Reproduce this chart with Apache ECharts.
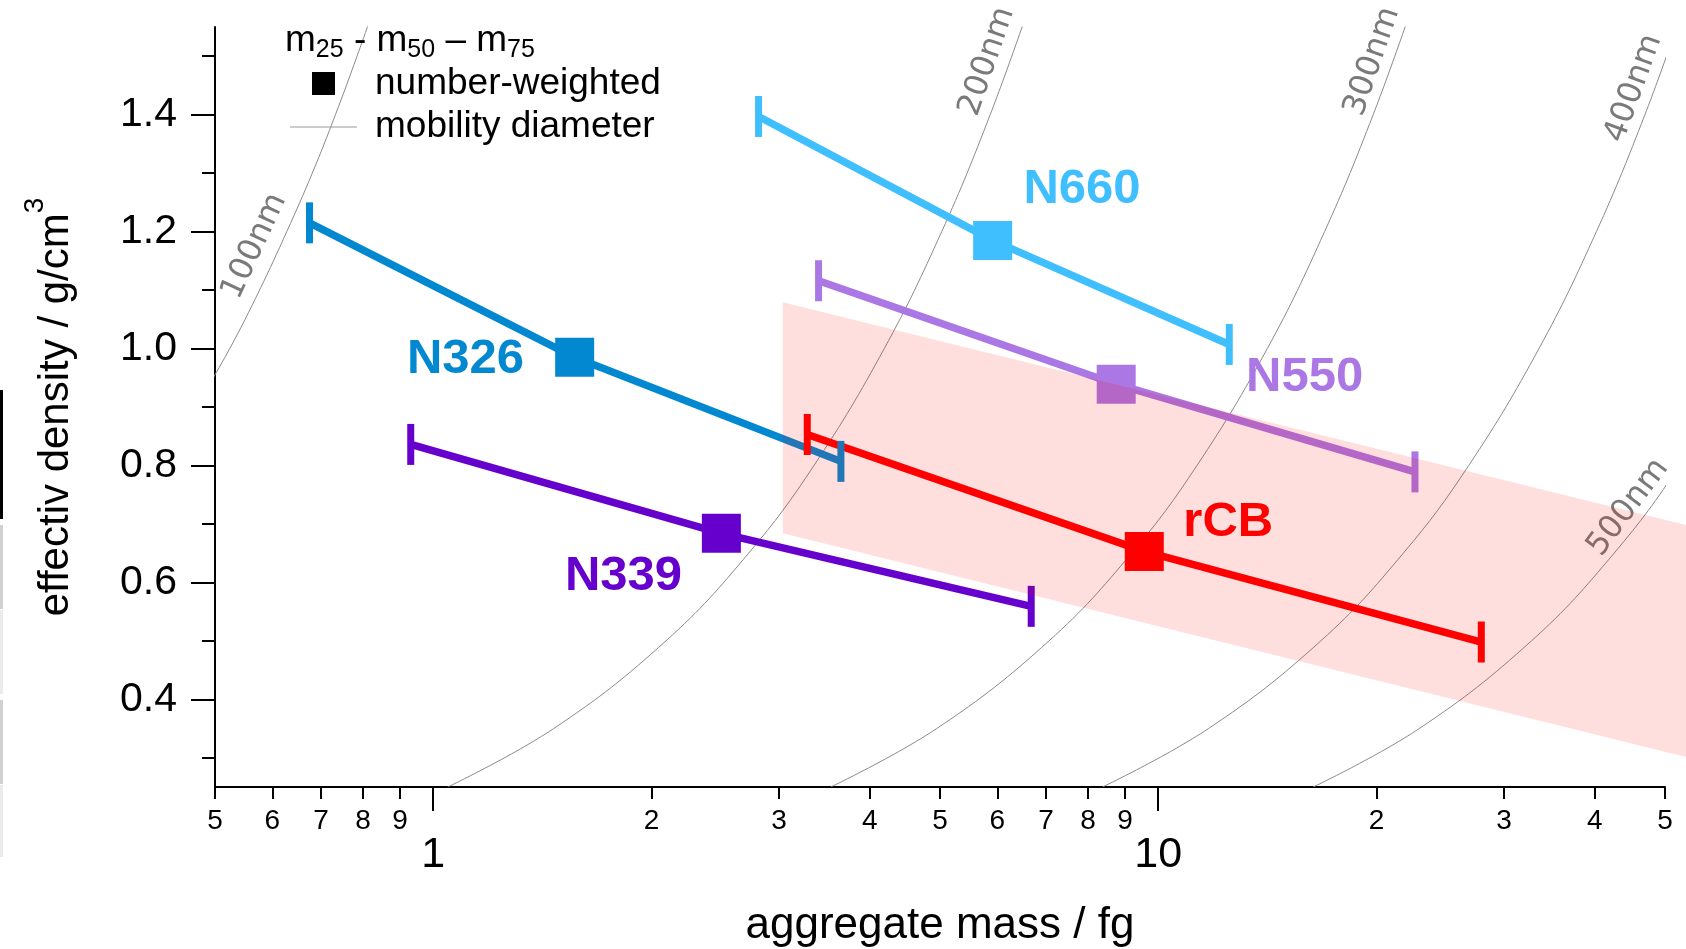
<!DOCTYPE html>
<html><head><meta charset="utf-8">
<script src="https://cdn.jsdelivr.net/npm/echarts@6/dist/echarts.min.js"></script>
<style>html,body{margin:0;padding:0;background:#fff}#c{width:1686px;height:949px}</style>
</head><body><div id="c"></div>
<script>
// ---- axis ticks ----
const massTicks = [0.5, 0.6, 0.7, 0.8, 0.9, 2, 3, 4, 5, 6, 7, 8, 9, 20, 30, 40, 50];
const massDecades = [1, 10];
const densLabelTicks = [0.4, 0.6, 0.8, 1.0, 1.2, 1.4];
const densMinorTicks = [0.3, 0.5, 0.7, 0.9, 1.1, 1.3, 1.5];

// ---- samples: m25, m50, m75 (mass in fg, effective density in g/cm3) ----
const sampleNames = ['N326', 'N339', 'N660', 'N550', 'rCB'];
const sampleColors = ['#0288D1', '#6600CC', '#40BFFF', '#AB77E5', '#FF0000'];
const massN326 = [0.675, 1.567, 3.65];
const densN326 = [1.215, 0.985, 0.807];
const massN339 = [0.931, 2.497, 6.68];
const densN339 = [0.836, 0.684, 0.559];
const massN660 = [2.81, 5.91, 12.53];
const densN660 = [1.397, 1.185, 1.007];
const massN550 = [3.40, 8.75, 22.6];
const densN550 = [1.116, 0.939, 0.789];
const massRCB = [3.28, 9.566, 27.9];
const densRCB = [0.853, 0.653, 0.498];
const labelMass = [1.108, 1.83, 7.85, 15.92, 12.49];
const labelDens = [0.982, 0.610, 1.272, 0.950, 0.702];

// ---- mobility diameter lines ----
const diameterNames = ['100nm', '200nm', '300nm', '400nm', '500nm'];
const curveMass100 = [0.471, 0.524, 0.576, 0.628, 0.681, 0.733, 0.785, 0.838];
const curveDens100 = [0.9, 1.0, 1.1, 1.2, 1.3, 1.4, 1.5, 1.6];
const curveMass200 = [1.047, 1.466, 2.094, 2.723, 3.351, 4.189, 5.027, 5.864, 6.702];
const curveDens200 = [0.25, 0.35, 0.5, 0.65, 0.8, 1.0, 1.2, 1.4, 1.6];
const curveMass300 = [3.534, 4.948, 7.069, 9.189, 11.31, 14.14, 16.96, 19.79, 22.62];
const curveDens300 = [0.25, 0.35, 0.5, 0.65, 0.8, 1.0, 1.2, 1.4, 1.6];
const curveMass400 = [8.378, 11.73, 16.76, 21.78, 26.81, 33.51, 40.21, 46.91, 53.62];
const curveDens400 = [0.25, 0.35, 0.5, 0.65, 0.8, 1.0, 1.2, 1.4, 1.6];
const curveMass500 = [16.36, 22.91, 32.72, 42.54, 52.36, 65.45];
const curveDens500 = [0.25, 0.35, 0.5, 0.65, 0.8, 1.0];
const diamLabelMass = [0.567, 5.81, 19.74, 45.3, 44.5];
const diamLabelDens = [1.175, 1.491, 1.491, 1.445, 0.728];
const diamLabelAngle = [65, 71, 71, 70, 53];

// ---- shaded band ----
const bandMass = [3.035, 54];
const bandUpper = [1.079, 0.697];
const bandLower = [0.684, 0.300];

const FF = 'Liberation Sans, Arial, Helvetica, sans-serif';
const L = Math.log10;

const samples = [
  [massN326, densN326], [massN339, densN339], [massN660, densN660],
  [massN550, densN550], [massRCB, densRCB]
];
const curves = [
  [curveMass100, curveDens100], [curveMass200, curveDens200], [curveMass300, curveDens300],
  [curveMass400, curveDens400], [curveMass500, curveDens500]
];

const series = [];
curves.forEach((c, k) => {
  series.push({
    type: 'line', name: diameterNames[k], z: 1, silent: true, smooth: 0.4,
    showSymbol: false, clip: true,
    lineStyle: { color: '#8a8a8a', width: 1 },
    data: c[0].map((m, i) => [L(m), c[1][i]])
  });
});
samples.forEach((s, k) => {
  series.push({
    type: 'line', name: sampleNames[k], z: 3, silent: true,
    lineStyle: { color: sampleColors[k], width: 7.5 },
    itemStyle: { color: sampleColors[k] },
    showAllSymbol: true,
    data: s[0].map((m, i) => ({
      value: [L(m), s[1][i]],
      symbol: 'rect',
      symbolSize: i === 1 ? [39, 39] : [7, 41]
    }))
  });
});
series.push({
  type: 'custom', name: 'diamLabels', z: 4, silent: true, clip: false,
  data: diamLabelMass.map((m, i) => [L(m), diamLabelDens[i]]),
  renderItem: (params, api) => {
    const p = api.coord([api.value(0), api.value(1)]);
    const i = params.dataIndex;
    return {
      type: 'text', x: p[0], y: p[1], rotation: diamLabelAngle[i] * Math.PI / 180,
      style: { text: diameterNames[i], fill: '#7a7a7a', fontSize: 32,
        fontFamily: 'DejaVu Sans, sans-serif', align: 'center', verticalAlign: 'middle' }
    };
  }
});
series.push({
  type: 'custom', name: 'band', z: 10, silent: true, clip: false,
  data: [[L(bandMass[0]), bandUpper[0]]],
  renderItem: (params, api) => {
    const pts = [
      [bandMass[0], bandUpper[0]], [bandMass[1], bandUpper[1]],
      [bandMass[1], bandLower[1]], [bandMass[0], bandLower[0]]
    ].map(p => api.coord([L(p[0]), p[1]]));
    return { type: 'polygon', shape: { points: pts }, style: { fill: 'rgba(255,0,0,0.13)' } };
  }
});
series.push({
  type: 'custom', name: 'sampleLabels', z: 12, silent: true, clip: false,
  data: labelMass.map((m, i) => [L(m), labelDens[i]]),
  renderItem: (params, api) => {
    const p = api.coord([api.value(0), api.value(1)]);
    const i = params.dataIndex;
    return {
      type: 'text', x: p[0], y: p[1],
      style: { text: sampleNames[i], fill: sampleColors[i], fontSize: 49, fontWeight: 'bold',
        fontFamily: FF, align: 'center', verticalAlign: 'middle' }
    };
  }
});

const digitFmt = v => {
  const e = Math.floor(v + 1e-9);
  return String(Math.round(Math.pow(10, v) / Math.pow(10, e)));
};

const option = {
  animation: false,
  backgroundColor: '#fff',
  grid: { left: 215, right: 21, top: 27, bottom: 162, outerBoundsMode: 'none' },
  xAxis: [
    {
      type: 'value', min: L(0.5), max: L(50), position: 'bottom',
      axisLine: { show: true, onZero: false, lineStyle: { color: '#000', width: 2 } },
      axisTick: { show: true, customValues: massTicks.map(L), length: 12, lineStyle: { color: '#000', width: 2 } },
      axisLabel: { show: true, customValues: massTicks.map(L), formatter: digitFmt,
        fontSize: 28, fontFamily: FF, color: '#000', margin: 20 },
      splitLine: { show: false },
      name: 'aggregate mass / fg', nameLocation: 'middle', nameGap: 117, nameMoveOverlap: false,
      nameTextStyle: { fontSize: 44, fontFamily: FF, color: '#000' }
    },
    {
      type: 'value', min: L(0.5), max: L(50), position: 'bottom',
      axisLine: { show: false, onZero: false },
      axisTick: { show: true, customValues: massDecades.map(L), length: 24, lineStyle: { color: '#000', width: 2 } },
      axisLabel: { show: true, customValues: massDecades.map(L), formatter: v => String(Math.round(Math.pow(10, v))),
        fontSize: 43, fontFamily: FF, color: '#000', margin: 47 },
      splitLine: { show: false }
    }
  ],
  yAxis: [
    {
      type: 'value', min: 0.25, max: 1.55, position: 'left',
      axisLine: { show: true, onZero: false, lineStyle: { color: '#000', width: 2 } },
      axisTick: { show: true, customValues: densLabelTicks, length: 24, lineStyle: { color: '#000', width: 2 } },
      axisLabel: { show: true, customValues: densLabelTicks, formatter: v => v.toFixed(1),
        fontSize: 41, fontFamily: FF, color: '#000', margin: 38 },
      splitLine: { show: false },
      name: '{a|effectiv density / g/cm}{s|3}', nameLocation: 'middle', nameGap: 124, nameRotate: 90,
      nameMoveOverlap: false,
      nameTextStyle: { color: '#000', fontFamily: FF, fontSize: 42,
        rich: { a: { fontSize: 42, lineHeight: 70, fontFamily: FF, color: '#000' },
                s: { fontSize: 28, lineHeight: 28, verticalAlign: 'top', fontFamily: FF, color: '#000' } } }
    },
    {
      type: 'value', min: 0.25, max: 1.55, position: 'left',
      axisLine: { show: false, onZero: false },
      axisTick: { show: true, customValues: densMinorTicks, length: 13, lineStyle: { color: '#000', width: 2 } },
      axisLabel: { show: false },
      splitLine: { show: false }
    }
  ],
  graphic: [
    { type: 'text', z: 100, x: 285, y: 41, silent: true,
      style: { text: 'm{s|25} - m{s|50} – m{s|75}', fill: '#000', fontSize: 37, fontFamily: FF,
        lineHeight: 44, verticalAlign: 'middle',
        rich: { s: { fontSize: 25, lineHeight: 25, verticalAlign: 'bottom', fontFamily: FF, fill: '#000' } } } },
    { type: 'rect', z: 100, silent: true, shape: { x: 312, y: 72, width: 23, height: 23 }, style: { fill: '#000' } },
    { type: 'text', z: 100, x: 375, y: 84, silent: true,
      style: { text: 'number-weighted', fill: '#000', fontSize: 37, fontFamily: FF, verticalAlign: 'middle' } },
    { type: 'line', z: 100, silent: true, shape: { x1: 290, y1: 127, x2: 357, y2: 127 }, style: { stroke: '#999', lineWidth: 1.2 } },
    { type: 'text', z: 100, x: 375, y: 127, silent: true,
      style: { text: 'mobility diameter', fill: '#000', fontSize: 37, fontFamily: FF, verticalAlign: 'middle' } },
    { type: 'rect', silent: true, shape: { x: 0, y: 390, width: 3, height: 129 }, style: { fill: '#000' } },
    { type: 'rect', silent: true, shape: { x: 0, y: 525, width: 3, height: 84 }, style: { fill: '#d0d0d0' } },
    { type: 'rect', silent: true, shape: { x: 0, y: 610, width: 3, height: 84 }, style: { fill: '#ebebeb' } },
    { type: 'rect', silent: true, shape: { x: 0, y: 700, width: 3, height: 84 }, style: { fill: '#d0d0d0' } },
    { type: 'rect', silent: true, shape: { x: 0, y: 785, width: 3, height: 72 }, style: { fill: '#ebebeb' } }
  ],
  series: series
};
const chart = echarts.init(document.getElementById('c'), null, { renderer: 'canvas' });
chart.setOption(option);
</script></body></html>
